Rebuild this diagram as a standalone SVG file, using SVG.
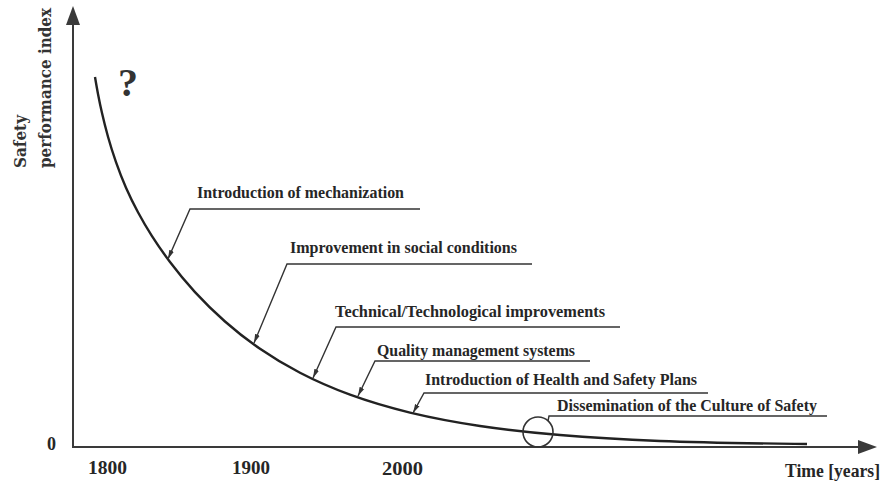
<svg xmlns="http://www.w3.org/2000/svg" width="896" height="483" viewBox="0 0 896 483">
<style>
.lbl{font-family:"Liberation Serif","Times New Roman",serif;font-weight:bold;font-size:16px;fill:#262626}
.ax{font-family:"Liberation Serif","Times New Roman",serif;font-weight:bold;font-size:18px;fill:#262626}
.yl{font-family:"DejaVu Serif","Liberation Serif",serif;font-weight:bold;font-size:16px;fill:#333}
.ld{fill:none;stroke:#333;stroke-width:1.4}
.axis{fill:none;stroke:#3a3a3a;stroke-width:2}
</style>
<defs>
<marker id="ah" markerUnits="userSpaceOnUse" markerWidth="10" markerHeight="8" refX="9" refY="4" orient="auto">
<path d="M0,1.5 L9,4 L0,6.5 Z" fill="#333"/>
</marker>
</defs>
<rect width="896" height="483" fill="#ffffff"/>
<g id="axes">
<line class="axis" x1="73" y1="447" x2="73" y2="22"/>
<polygon points="73,6 66,25 80,25" fill="#3a3a3a"/>
<line class="axis" x1="72" y1="447" x2="862" y2="447"/>
<polygon points="877,447 858,440 858,454" fill="#3a3a3a"/>
<text class="yl" transform="translate(26,168) rotate(-90)" textLength="53" lengthAdjust="spacingAndGlyphs">Safety</text>
<text class="yl" transform="translate(51,168) rotate(-90)" textLength="160" lengthAdjust="spacingAndGlyphs">performance index</text>
<text class="ax" x="47" y="450">0</text>
<text class="ax" x="88" y="474" textLength="39" lengthAdjust="spacingAndGlyphs">1800</text>
<text class="ax" x="232" y="474" textLength="38" lengthAdjust="spacingAndGlyphs">1900</text>
<text class="ax" x="382" y="475" textLength="41" lengthAdjust="spacingAndGlyphs">2000</text>
<text class="ax" x="785" y="477" textLength="95" lengthAdjust="spacingAndGlyphs">Time [years]</text>
</g>
<g id="curve">
<path d="M95,77 C96,82.9 97,88.7 98,93.9 C99.33,100.8 100.67,107.2 102,113.1 C104,121.9 106,129.6 108,136.8 C110.67,146.4 113.33,154.5 116,162.1 C119.33,171.6 122.67,180.1 126,187.7 C130,196.8 134,204.8 138,212.2 C142.67,220.9 147.33,228.8 152,236.1 C158,245.5 164,254 170,262 C178.33,273.1 186.67,283 195,292.1 C205,303 215,312.7 225,321.5 C236.67,331.75 248.33,340.8 260,348.8 C273.33,358 286.67,365.9 300,372.8 C316.67,381.45 333.33,388.6 350,394.7 C370,402 390,407.8 410,412.6 C433.33,418.2 456.67,422.5 480,425.95 C506.67,429.9 533.33,432.75 560,435 C593.33,437.8 626.67,439.6 660,441 C709,443.05 758,443.3 807,444" fill="none" stroke="#222" stroke-width="2.4"/>
<text x="118" y="96" font-family="Liberation Serif, Times New Roman, serif" font-weight="bold" font-size="40" fill="#333">?</text>
</g>
<g id="connectors">
<polyline class="ld" points="420,209 190,209 168,259" marker-end="url(#ah)"/>
<polyline class="ld" points="532,264 287,264 254,343" marker-end="url(#ah)"/>
<polyline class="ld" points="620,327 336,327 313,378" marker-end="url(#ah)"/>
<polyline class="ld" points="590,361 375,361 358,396" marker-end="url(#ah)"/>
<polyline class="ld" points="708,393 424,393 413,413" marker-end="url(#ah)"/>
<polyline class="ld" points="827,416 549,416 548,421"/>
</g>
<g id="n1"><text class="lbl" x="197" y="198" textLength="207" lengthAdjust="spacingAndGlyphs">Introduction of mechanization</text></g>
<g id="n2"><text class="lbl" x="290" y="253" textLength="227" lengthAdjust="spacingAndGlyphs">Improvement in social conditions</text></g>
<g id="n3"><text class="lbl" x="335" y="317" textLength="270" lengthAdjust="spacingAndGlyphs">Technical/Technological improvements</text></g>
<g id="n4"><text class="lbl" x="377" y="356" textLength="198" lengthAdjust="spacingAndGlyphs">Quality management systems</text></g>
<g id="n5"><text class="lbl" x="425" y="385" textLength="272" lengthAdjust="spacingAndGlyphs">Introduction of Health and Safety Plans</text></g>
<g id="n6"><text class="lbl" x="557" y="411" textLength="260" lengthAdjust="spacingAndGlyphs">Dissemination of the Culture of Safety</text>
<circle cx="538" cy="432" r="15" fill="none" stroke="#333" stroke-width="1.6"/></g>
</svg>
